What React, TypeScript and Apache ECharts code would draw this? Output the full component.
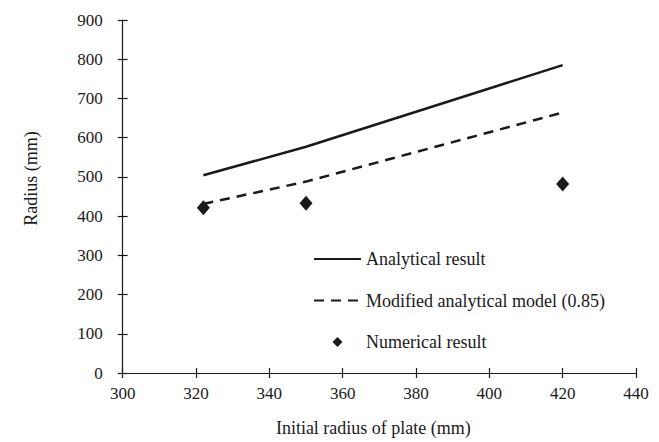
import React, { useEffect, useRef } from "react";
import * as echarts from "echarts";

const xValues = [322, 350, 420];
const analytical = [504, 577, 785];
const modified = [431, 488, 664];
const numerical = [421, 433, 482];
const seriesNames = ["Analytical result", "Modified analytical model (0.85)", "Numerical result"];

const FONT = "Liberation Serif";
const INK = "#1a1a1a";
const DIAMOND = "path://M0,-1L1,0L0,1L-1,0Z";

export default function App() {
  const ref = useRef<HTMLDivElement>(null);
  useEffect(() => {
    if (!ref.current) return;
    const chart = echarts.init(ref.current, undefined, { renderer: "svg" });
    const axisX = (extra: any) => ({
      type: "value",
      min: 300,
      max: 440,
      interval: 20,
      splitLine: { show: false },
      ...extra,
    });
    const axisY = (extra: any) => ({
      type: "value",
      min: 0,
      max: 900,
      interval: 100,
      splitLine: { show: false },
      ...extra,
    });
    chart.setOption({
      animation: false,
      backgroundColor: "#fff",
      textStyle: { fontFamily: FONT },
      grid: { left: 122.7, right: 23, top: 20, bottom: 68, containLabel: false },
      xAxis: [
        axisX({
          name: "Initial radius of plate (mm)",
          nameLocation: "middle",
          nameGap: 46,
          nameTextStyle: { fontFamily: FONT, fontSize: 18, color: INK, padding: [0, 12, 0, 0] },
          axisLine: { show: true, lineStyle: { color: INK, width: 1.2 } },
          axisTick: { show: true, length: 5, lineStyle: { color: INK, width: 1.2 } },
          axisLabel: { margin: 12, fontFamily: FONT, fontSize: 17, color: INK },
        }),
        axisX({
          position: "bottom",
          axisLine: { show: false },
          axisTick: { show: true, inside: true, length: 5, lineStyle: { color: INK, width: 1.2 } },
          axisLabel: { show: false },
        }),
      ],
      yAxis: [
        axisY({
          name: "Radius (mm)",
          nameLocation: "middle",
          nameGap: 83,
          nameTextStyle: { fontFamily: FONT, fontSize: 18, color: INK, padding: [0, 0, 0, 36] },
          axisLine: { show: true, lineStyle: { color: INK, width: 1.2 } },
          axisTick: { show: true, length: 5, lineStyle: { color: INK, width: 1.2 } },
          axisLabel: { margin: 20, fontFamily: FONT, fontSize: 17, color: INK },
        }),
        axisY({
          position: "left",
          axisLine: { show: false },
          axisTick: { show: true, inside: true, length: 5, lineStyle: { color: INK, width: 1.2 } },
          axisLabel: { show: false },
        }),
      ],
      legend: {
        orient: "vertical",
        left: 313,
        top: 250,
        padding: 0,
        itemWidth: 47,
        itemHeight: 10,
        itemGap: 23.5,
        symbolKeepAspect: true,
        textStyle: { fontFamily: FONT, fontSize: 18, color: INK },
        data: [
          { name: seriesNames[0], itemStyle: { opacity: 0 } },
          { name: seriesNames[1], itemStyle: { opacity: 0 } },
          { name: seriesNames[2], icon: DIAMOND, itemStyle: { color: INK, opacity: 1 } },
        ],
      },
      series: [
        {
          name: seriesNames[0],
          type: "line",
          data: xValues.map((x, i) => [x, analytical[i]]),
          symbol: "none",
          lineStyle: { color: INK, width: 2.5, type: "solid" },
          itemStyle: { color: INK },
        },
        {
          name: seriesNames[1],
          type: "line",
          data: xValues.map((x, i) => [x, modified[i]]),
          symbol: "none",
          lineStyle: { color: INK, width: 2.5, type: [10, 7] },
          itemStyle: { color: INK },
        },
        {
          name: seriesNames[2],
          type: "scatter",
          data: xValues.map((x, i) => [x, numerical[i]]),
          symbol: "diamond",
          symbolSize: [13, 15],
          itemStyle: { color: INK, opacity: 1 },
        },
      ],
    });
    return () => chart.dispose();
  }, []);
  return <div ref={ref} style={{ width: 659, height: 442, position: "absolute", left: 0, top: 0 }} />;
}
